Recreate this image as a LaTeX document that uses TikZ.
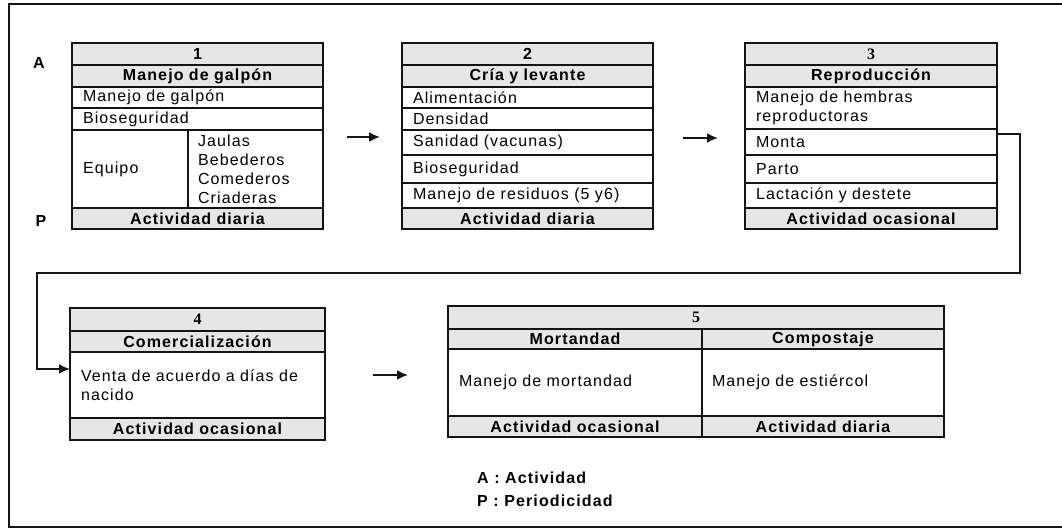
\documentclass[tikz,border=0pt]{standalone}
\usepackage{fontspec}
\setmainfont{Liberation Sans}[LetterSpace=7]
\newfontfamily\numserif{Liberation Serif}
\usetikzlibrary{arrows.meta}
\definecolor{hdrgray}{RGB}{230,230,230}
\definecolor{linec}{RGB}{20,20,20}
\newcommand\cellfont{\fontsize{16pt}{19pt}\selectfont}
\begin{document}
\begin{tikzpicture}[x=1pt,y=-1pt,
  cell/.style={draw=linec, line width=2pt, anchor=north west, outer sep=0pt,
    inner xsep=11pt, inner ysep=0pt, align=left, font=\cellfont},
  hcell/.style={cell, fill=hdrgray, align=center, font=\cellfont\bfseries},
  conn/.style={draw=linec, line width=2pt, -{Latex[length=11pt,width=10pt]}},
  tag/.style={font=\cellfont\bfseries, inner sep=0pt},
]
\useasboundingbox (0,0) rectangle (1062,529);
\fill[white] (0,0) rectangle (1062,529);
% outer frame
\draw[linec, line width=2.5pt] (1063,4) -- (9,4) -- (9,527) -- (1063,527);

% ---- 1: Manejo de galpon
\node[hcell, text width=229pt, minimum height=22pt] (n1) at (72,43) {1};
\node[hcell, text width=229pt, minimum height=22pt] (t1) at (72,65) {Manejo de galpón};
\node[cell, text width=229pt, minimum height=21pt] (r1a) at (72,87) {Manejo de galpón};
\node[cell, text width=229pt, minimum height=22pt] (r1b) at (72,108) {Bioseguridad};
\node[cell, text width=94pt, minimum height=78pt] (r1c) at (72,130) {Equipo};
\node[cell, text width=115pt, minimum height=78pt, inner xsep=10pt] (r1d) at (188,130)
  {Jaulas\\Bebederos\\Comederos\\Criaderas};
\node[hcell, text width=229pt, minimum height=21pt] (p1) at (72,208) {Actividad diaria};

% ---- 2: Cria y levante
\node[hcell, text width=229pt, minimum height=22pt] (n2) at (402,43) {2};
\node[hcell, text width=229pt, minimum height=22pt] (t2) at (402,65) {Cría y levante};
\node[cell, text width=229pt, minimum height=21pt] (r2a) at (402,87) {Alimentación};
\node[cell, text width=229pt, minimum height=22pt] (r2b) at (402,108) {Densidad};
\node[cell, text width=229pt, minimum height=25pt] (r2c) at (402,130) {Sanidad (vacunas)};
\node[cell, text width=229pt, minimum height=28pt] (r2d) at (402,155) {Bioseguridad};
\node[cell, text width=229pt, minimum height=25pt] (r2e) at (402,183) {Manejo de residuos (5 y6)};
\node[hcell, text width=229pt, minimum height=21pt] (p2) at (402,208) {Actividad diaria};

% ---- 3: Reproduccion
\node[hcell, text width=230pt, minimum height=22pt] (n3) at (745,43) {\numserif\bfseries 3};
\node[hcell, text width=230pt, minimum height=22pt] (t3) at (745,65) {Reproducción};
\node[cell, text width=230pt, minimum height=42pt] (r3a) at (745,87) {Manejo de hembras\\reproductoras};
\node[cell, text width=230pt, minimum height=26pt] (r3b) at (745,129) {Monta};
\node[cell, text width=230pt, minimum height=28pt] (r3c) at (745,155) {Parto};
\node[cell, text width=230pt, minimum height=25pt] (r3d) at (745,183) {Lactación y destete};
\node[hcell, text width=230pt, minimum height=21pt] (p3) at (745,208) {Actividad ocasional};

% ---- 4: Comercializacion
\node[hcell, text width=233pt, minimum height=23pt] (n4) at (70,308) {\numserif\bfseries 4};
\node[hcell, text width=233pt, minimum height=21pt] (t4) at (70,331) {Comercialización};
\node[cell, text width=233pt, minimum height=66pt] (r4a) at (70,352) {Venta de acuerdo a días de\\nacido};
\node[hcell, text width=233pt, minimum height=22pt] (p4) at (70,418) {Actividad ocasional};

% ---- 5: Mortandad / Compostaje
\node[hcell, text width=474pt, minimum height=23pt] (n5) at (448,306) {\numserif\bfseries 5};
\node[hcell, text width=232pt, minimum height=20pt] (t5a) at (448,329) {Mortandad};
\node[hcell, text width=222pt, minimum height=20pt, inner xsep=10pt] (t5b) at (702,329) {Compostaje};
\node[cell, text width=232pt, minimum height=67pt] (r5a) at (448,349) {Manejo de mortandad};
\node[cell, text width=222pt, minimum height=67pt, inner xsep=10pt] (r5b) at (702,349) {Manejo de estiércol};
\node[hcell, text width=232pt, minimum height=21pt] (p5a) at (448,416) {Actividad ocasional};
\node[hcell, text width=222pt, minimum height=21pt, inner xsep=10pt] (p5b) at (702,416) {Actividad diaria};

% ---- side tags and legend
\node[tag] (la) at (39,63) {A};
\node[tag] (lp) at (41,221) {P};
\node[tag, anchor=west] (lga) at (477,478) {A : Actividad};
\node[tag, anchor=west] (lgp) at (477,501) {P : Periodicidad};

% ---- flow arrows
\coordinate (a12s) at (347,137); \coordinate (a12e) at (380,137);
\coordinate (a23s) at (683,138); \coordinate (a23e) at (718,138);
\coordinate (a45s) at (373,375); \coordinate (a45e) at (408,375);
\draw[conn] (a12s) -- (a12e);
\draw[conn] (a23s) -- (a23e);
\draw[conn] (a45s) -- (a45e);
\draw[conn] ([yshift=-5pt]r3b.north east) -| (1020,273) -| (37,369)
  -- ([yshift=-17pt]r4a.north west);
\end{tikzpicture}
\end{document}
